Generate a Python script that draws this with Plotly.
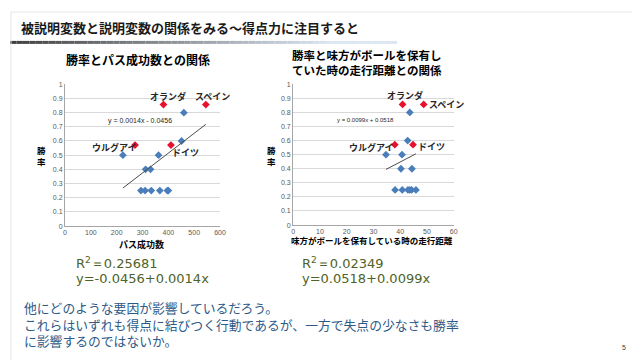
import plotly.graph_objects as go

# ---- data ----
teams_red = ["オランダ", "スペイン", "ウルグアイ", "ドイツ"]
pass_red = [381, 545, 271, 410]
win_red = [0.857, 0.857, 0.571, 0.571]
pass_blue = [460, 451, 224, 362, 312, 331, 294, 310, 334, 367, 396, 400]
win_blue = [0.8, 0.6, 0.5, 0.5, 0.4, 0.4, 0.25, 0.25, 0.25, 0.25, 0.25, 0.25]

dist_red = [40.9, 48.8, 38.0, 44.8]
dist_blue = [43.6, 42.8, 34.7, 40.7, 40.3, 44.4, 38.1, 40.8, 42.9, 43.6, 44.3, 45.9]

slope1, intercept1, r2_1 = 0.0014, -0.0456, 0.25681
slope2, intercept2, r2_2 = 0.0099, 0.0518, 0.02349
trend_x1 = [224, 545]
trend_x2 = [34.7, 45.9]

y_ticks = [0, 0.1, 0.2, 0.3, 0.4, 0.5, 0.6, 0.7, 0.8, 0.9, 1]
x_ticks1 = [0, 100, 200, 300, 400, 500, 600]
x_ticks2 = [0, 10, 20, 30, 40, 50, 60]

W, H = 640, 360
def px(x):
    return x / W
def py(y):
    return 1 - y / H

BLUE = "#4a7ebb"
RED = "#e8112d"
FONT = "Noto Sans CJK JP"

fig = go.Figure()

def add_chart(xa, ya, xb, wb, xr, wr, tx, slope, intercept):
    fig.add_trace(go.Scatter(x=xb, y=wb, mode="markers", xaxis=xa, yaxis=ya,
                             marker=dict(symbol="diamond", size=6, color=BLUE),
                             showlegend=False, hoverinfo="skip"))
    fig.add_trace(go.Scatter(x=xr, y=wr, mode="markers", xaxis=xa, yaxis=ya,
                             marker=dict(symbol="diamond", size=6, color=RED),
                             showlegend=False, hoverinfo="skip"))
    fig.add_trace(go.Scatter(x=tx, y=[slope * v + intercept for v in tx], mode="lines",
                             xaxis=xa, yaxis=ya, line=dict(color="#4d4d4d", width=1),
                             showlegend=False, hoverinfo="skip"))

add_chart("x", "y", pass_blue, win_blue, pass_red, win_red, trend_x1, slope1, intercept1)
add_chart("x2", "y2", dist_blue, win_blue, dist_red, win_red, trend_x2, slope2, intercept2)

axis_common = dict(showgrid=False, showline=True, linecolor="#a6a6a6", linewidth=1,
                   ticks="", tickfont=dict(size=7, color="#595959", family="Liberation Sans"),
                   zeroline=False, fixedrange=True)
yaxis_common = dict(showgrid=True, gridcolor="#d9d9d9", gridwidth=1, showline=True,
                    linecolor="#a6a6a6", linewidth=1, ticks="", range=[0, 1],
                    tickvals=y_ticks, ticktext=[f"{v:g}" for v in y_ticks],
                    tickfont=dict(size=7, color="#595959", family="Liberation Sans"),
                    zeroline=False, fixedrange=True)

fig.update_layout(
    width=W, height=H, margin=dict(l=0, r=0, t=0, b=0),
    paper_bgcolor="white", plot_bgcolor="white",
    xaxis=dict(domain=[px(55.7), px(212.7)], range=[0, 600], tickvals=x_ticks1,
               anchor="y", **axis_common),
    yaxis=dict(domain=[py(218.3), py(73.7)], anchor="x", **yaxis_common),
    xaxis2=dict(domain=[px(286.7), px(449.3)], range=[0, 60], tickvals=x_ticks2,
                anchor="y2", **axis_common),
    yaxis2=dict(domain=[py(217.3), py(73.7)], anchor="x2", **yaxis_common),
)

ann = []
def text(x, y, t, size, color="#000000", bold=False, xanchor="left", family=FONT, **kw):
    ann.append(dict(x=px(x), y=py(y), xref="paper", yref="paper", text=(f"<b>{t}</b>" if bold else t),
                    showarrow=False, xanchor=xanchor, yanchor="middle",
                    font=dict(size=size, color=color, family=family), **kw))

# main title
text(9, 16, "被説明変数と説明変数の関係をみる～得点力に注目すると", 13, "#1a1a1a", bold=True)
# chart titles
text(130, 48, "勝率とパス成功数との関係", 12, bold=True, xanchor="center")
text(284, 52, "勝率と味方がボールを保有し<br>ていた時の走行距離との関係", 11.5, bold=True, align="left")
# axis titles
text(32, 146, "勝<br>率", 8.5, bold=True, xanchor="center")
text(265, 146, "勝<br>率", 8.5, bold=True, xanchor="center")
text(133, 237, "パス成功数", 9, bold=True, xanchor="center")
text(367, 233, "味方がボールを保有している時の走行距離", 8.5, bold=True, xanchor="center")

# trend equations
text(132, 111, f"y = {slope1}x - {abs(intercept1)}", 7, "#262626", xanchor="center", family="Liberation Sans")
text(360, 110, f"y = {slope2}x + {intercept2}", 6, "#262626", xanchor="center", family="Liberation Sans")

# team labels (anchored on data points)
offs1 = [(5, -8.5), (7, -8.5), (-21, 2), (15, 7.6)]
offs2 = [(2.5, -9), (3, 0), (-23, 2.7), (18, 1.4)]
for xs, xa, ya, offs in [(pass_red, "x", "y", offs1), (dist_red, "x2", "y2", offs2)]:
    for t, xv, yv, (dx, dy) in zip(teams_red, xs, win_red, offs):
        ax = "left" if (xa == "x2" and t == "スペイン") else "center"
        ann.append(dict(x=xv, y=yv, xref=xa, yref=ya, text=f"<b>{t}</b>", showarrow=False,
                        xshift=dx, yshift=-dy, xanchor=ax, yanchor="middle",
                        font=dict(size=9, color="#262626", family=FONT)))

# R^2 and equations
GREEN = "#4f6228"
text(65, 256, f"R<sup>2</sup>＝{r2_1}", 13, GREEN, family="DejaVu Sans")
text(65, 272, f"y={intercept1}+{slope1}x", 13, GREEN, family="DejaVu Sans")
text(294, 256, f"R<sup>2</sup>＝{r2_2}", 13, GREEN, family="DejaVu Sans")
text(294, 272, f"y={intercept2}+{slope2}x", 13, GREEN, family="DejaVu Sans")

BTXT = "#2e5a88"
text(12, 318, "他にどのような要因が影響しているだろう。<br>"
              "これらはいずれも得点に結びつく行動であるが、一方で失点の少なさも勝率<br>"
              "に影響するのではないか。", 12.8, BTXT, align="left")
text(622, 342, "5", 7, "#404040", xanchor="center", family="Liberation Sans")

fig.update_layout(annotations=ann)

# gradient rule under title
shapes = []
n = 60
c0 = (64, 64, 64)
c1 = (220, 230, 242)
x0, x1 = 0, 392
for i in range(n):
    f = i / (n - 1)
    f2 = min(1, f * 1.2)
    c = tuple(int(c0[k] + (c1[k] - c0[k]) * f2) for k in range(3))
    shapes.append(dict(type="line", xref="paper", yref="paper",
                       x0=px(x0 + (x1 - x0) * i / n), x1=px(x0 + (x1 - x0) * (i + 1) / n),
                       y0=py(31), y1=py(31), line=dict(color=f"rgb{c}", width=3)))
# slide frame
shapes.append(dict(type="rect", xref="paper", yref="paper", x0=px(1), x1=px(636), y0=py(358), y1=py(0),
                   line=dict(color="#e6e6e6", width=1)))
fig.update_layout(shapes=shapes)

fig.write_html("out.html")
